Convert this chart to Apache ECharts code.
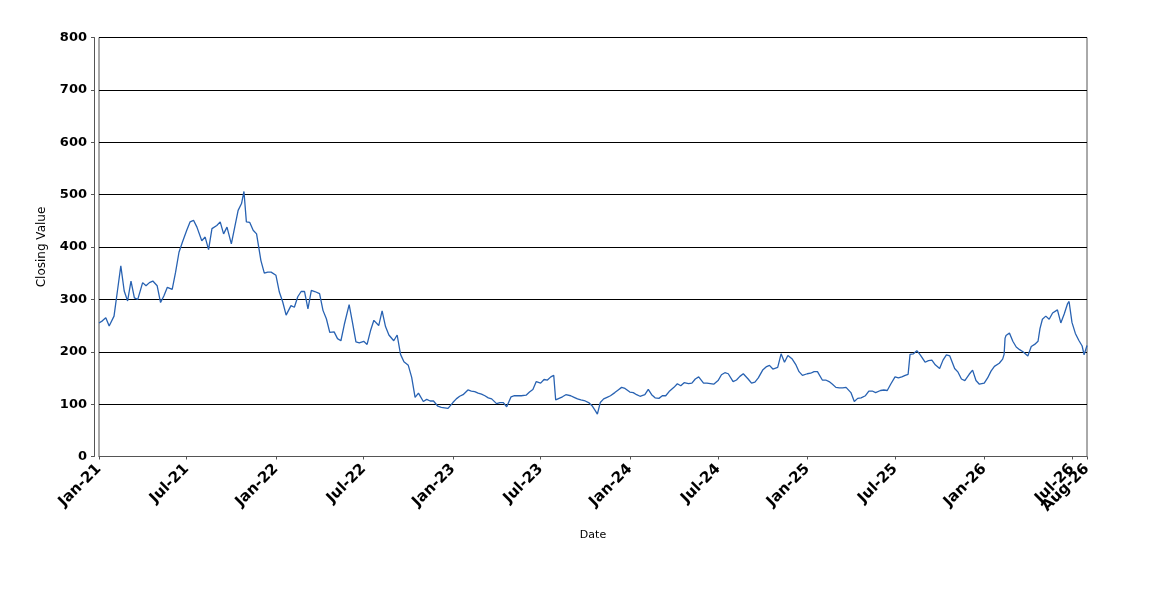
<!DOCTYPE html>
<html>
<head>
<meta charset="utf-8">
<script src="https://cdn.jsdelivr.net/npm/echarts@6/dist/echarts.min.js"></script>
<style>
  html, body { margin: 0; padding: 0; background: #fff; }
  #chart { width: 1150px; height: 600px; }
</style>
</head>
<body>
<div id="chart"></div>
<script>
// closing values, roughly weekly
var dates = [
  '2021-01-01','2021-01-08','2021-01-15','2021-01-22',
  '2021-02-01','2021-02-08','2021-02-15','2021-02-22',
  '2021-03-01','2021-03-08','2021-03-15','2021-03-22',
  '2021-04-01','2021-04-08','2021-04-15','2021-04-22',
  '2021-05-01','2021-05-08','2021-05-15','2021-05-22',
  '2021-06-01','2021-06-08','2021-06-15','2021-06-22',
  '2021-07-01','2021-07-08','2021-07-15','2021-07-22',
  '2021-08-01','2021-08-08','2021-08-15','2021-08-22',
  '2021-09-01','2021-09-08','2021-09-15','2021-09-22',
  '2021-10-01','2021-10-08','2021-10-15','2021-10-22','2021-10-27',
  '2021-11-01','2021-11-08','2021-11-15','2021-11-22',
  '2021-12-01','2021-12-08','2021-12-15','2021-12-22',
  '2022-01-01','2022-01-08','2022-01-15','2022-01-22',
  '2022-02-01','2022-02-08','2022-02-15','2022-02-22',
  '2022-03-01','2022-03-08','2022-03-15','2022-03-22',
  '2022-04-01','2022-04-08','2022-04-15','2022-04-22',
  '2022-05-01','2022-05-08','2022-05-15','2022-05-22',
  '2022-06-01','2022-06-08','2022-06-15','2022-06-22',
  '2022-07-01','2022-07-08','2022-07-15','2022-07-22',
  '2022-08-01','2022-08-08','2022-08-15','2022-08-22',
  '2022-09-01','2022-09-08','2022-09-15','2022-09-22',
  '2022-10-01','2022-10-08','2022-10-15','2022-10-22',
  '2022-11-01','2022-11-08','2022-11-15','2022-11-22',
  '2022-12-01','2022-12-08','2022-12-15','2022-12-22',
  '2023-01-01','2023-01-08','2023-01-15','2023-01-22',
  '2023-02-01','2023-02-08','2023-02-15','2023-02-22',
  '2023-03-01','2023-03-08','2023-03-15','2023-03-22',
  '2023-04-01','2023-04-08','2023-04-15','2023-04-22',
  '2023-05-01','2023-05-08','2023-05-15','2023-05-22',
  '2023-06-01','2023-06-08','2023-06-15','2023-06-22',
  '2023-07-01','2023-07-08','2023-07-15','2023-07-22','2023-07-28',
  '2023-08-01','2023-08-08','2023-08-15','2023-08-22',
  '2023-09-01','2023-09-08','2023-09-15','2023-09-22',
  '2023-10-01','2023-10-08','2023-10-15','2023-10-22','2023-10-26',
  '2023-11-01','2023-11-08','2023-11-15','2023-11-22',
  '2023-12-01','2023-12-08','2023-12-15','2023-12-22',
  '2024-01-01','2024-01-08','2024-01-15','2024-01-22',
  '2024-02-01','2024-02-08','2024-02-15','2024-02-22',
  '2024-03-01','2024-03-08','2024-03-15','2024-03-22',
  '2024-04-01','2024-04-08','2024-04-15','2024-04-22',
  '2024-05-01','2024-05-08','2024-05-15','2024-05-22',
  '2024-06-01','2024-06-08','2024-06-15','2024-06-22',
  '2024-07-01','2024-07-08','2024-07-15','2024-07-22',
  '2024-08-01','2024-08-08','2024-08-15','2024-08-22',
  '2024-09-01','2024-09-08','2024-09-15','2024-09-22',
  '2024-10-01','2024-10-08','2024-10-15','2024-10-22',
  '2024-11-01','2024-11-08','2024-11-15','2024-11-22',
  '2024-12-01','2024-12-08','2024-12-15','2024-12-22',
  '2025-01-01','2025-01-08','2025-01-15','2025-01-22',
  '2025-02-01','2025-02-08','2025-02-15','2025-02-22',
  '2025-03-01','2025-03-08','2025-03-15','2025-03-22',
  '2025-04-01','2025-04-08','2025-04-15','2025-04-22',
  '2025-05-01','2025-05-08','2025-05-15','2025-05-22',
  '2025-06-01','2025-06-08','2025-06-15','2025-06-22',
  '2025-07-01','2025-07-08','2025-07-15','2025-07-22','2025-07-28',
  '2025-08-01','2025-08-08','2025-08-15','2025-08-22',
  '2025-09-01','2025-09-08','2025-09-15','2025-09-22',
  '2025-10-01','2025-10-08','2025-10-15','2025-10-22',
  '2025-11-01','2025-11-08','2025-11-15','2025-11-22',
  '2025-12-01','2025-12-08','2025-12-15','2025-12-22',
  '2026-01-01','2026-01-08','2026-01-15','2026-01-22',
  '2026-02-01','2026-02-08','2026-02-11','2026-02-13','2026-02-15','2026-02-22',
  '2026-03-01','2026-03-08','2026-03-15','2026-03-22',
  '2026-04-01','2026-04-08','2026-04-15','2026-04-22','2026-04-26',
  '2026-05-01','2026-05-08','2026-05-15','2026-05-22',
  '2026-06-01','2026-06-08','2026-06-15','2026-06-22','2026-06-25',
  '2026-07-01','2026-07-08','2026-07-15','2026-07-22','2026-07-26',
  '2026-08-01'
];
var closing = [
  255, 259, 265, 249,
  268, 316, 364, 316,
  297, 335, 303, 300,
  332, 326, 332, 335,
  326, 294, 307, 323,
  319, 352, 390, 409,
  432, 448, 451, 438,
  412, 419, 395, 435,
  441, 448, 425, 438,
  406, 438, 470, 483, 506,
  448, 447, 432, 425,
  374, 350, 352, 352,
  346, 314, 295, 270,
  288, 285, 305, 315,
  315, 282, 317, 315,
  311, 279, 263, 237,
  238, 225, 221, 252,
  290, 255, 219, 217,
  220, 214, 240, 260,
  250, 278, 248, 232,
  221, 232, 195, 181,
  174, 151, 113, 121,
  105, 109, 106, 106,
  96, 94, 93, 92,
  103, 110, 115, 118,
  127, 125, 124, 121,
  119, 116, 112, 110,
  101, 103, 103, 95,
  114, 116, 116, 116,
  117, 123, 128, 143,
  140, 147, 146, 152, 155,
  108, 111, 114, 118,
  116, 113, 110, 108,
  106, 103, 97, 87, 81,
  103, 110, 113, 116,
  122, 127, 132, 130,
  123, 122, 118, 115,
  118, 128, 118, 112,
  111, 116, 116, 124,
  132, 139, 135, 141,
  139, 140, 148, 152,
  140, 140, 139, 138,
  145, 156, 160, 158,
  143, 146, 153, 158,
  148, 140, 142, 150,
  165, 171, 174, 167,
  170, 196, 180, 193,
  186, 176, 162, 155,
  158, 159, 162, 162,
  146, 146, 143, 138,
  132, 131, 131, 132,
  122, 105, 111, 112,
  116, 125, 125, 122,
  126, 127, 126, 138,
  152, 150, 152, 155, 157,
  195, 196, 202, 194,
  180, 183, 184, 175,
  168, 184, 194, 192,
  168, 161, 148, 145,
  157, 165, 145, 138,
  140, 150, 163, 172,
  178, 186, 195, 226, 231, 236,
  220, 209, 204, 200,
  192, 210, 214, 220, 244,
  262, 268, 262, 274,
  280, 255, 272, 292, 296,
  256, 235, 222, 211, 194,
  212
];
var tickDates = [
  '2021-01-01','2021-07-01','2022-01-01','2022-07-01','2023-01-01','2023-07-01',
  '2024-01-01','2024-07-01','2025-01-01','2025-07-01','2026-01-01','2026-07-01','2026-08-01'
];
var tickLabels = [
  'Jan-21','Jul-21','Jan-22','Jul-22','Jan-23','Jul-23',
  'Jan-24','Jul-24','Jan-25','Jul-25','Jan-26','Jul-26','Aug-26'
];

function toTime(s) {
  var p = s.split('-');
  return Date.UTC(+p[0], +p[1] - 1, +p[2]);
}

var tickTimes = tickDates.map(toTime);
var seriesData = [];
for (var i = 0; i < dates.length; i++) {
  seriesData.push([toTime(dates[i]), closing[i]]);
}

var chart = echarts.init(document.getElementById('chart'));
var font = 'DejaVu Sans';
var tMin = tickTimes[0];
var tMax = tickTimes[tickTimes.length - 1];

function dateLabel(v) {
  for (var k = 0; k < tickTimes.length; k++) {
    if (Math.abs(tickTimes[k] - v) < 43200000) return tickLabels[k];
  }
  return '';
}

var labelStyle = {
  rotate: 45,
  margin: 5,
  fontFamily: font,
  fontSize: 15,
  fontWeight: 'bold',
  color: '#000',
  formatter: dateLabel
};

var option = {
  animation: false,
  grid: {
    left: 99, right: 63, top: 37.5, bottom: 143.5,
    show: true, borderColor: '#555', borderWidth: 1
  },
  xAxis: [{
    type: 'value',
    min: tMin,
    max: tMax,
    offset: 5,
    name: 'Date',
    nameLocation: 'middle',
    nameGap: 68,
    nameTextStyle: { fontFamily: font, fontSize: 11, color: '#000' },
    axisLine: { lineStyle: { color: '#555', width: 1 } },
    axisTick: { customValues: tickTimes, length: 3, lineStyle: { color: '#555' } },
    axisLabel: Object.assign({ customValues: tickTimes.slice(0, -1) }, labelStyle),
    splitLine: { show: false }
  }, {
    // second axis on the same grid only carries the last (overlapping) label
    type: 'value',
    min: tMin,
    max: tMax,
    position: 'bottom',
    offset: 5,
    axisLine: { show: false },
    axisTick: { show: false },
    axisLabel: Object.assign({ customValues: [tMax], showMaxLabel: true }, labelStyle),
    splitLine: { show: false }
  }],
  yAxis: {
    type: 'value',
    min: 0, max: 800, interval: 100,
    offset: 5,
    name: 'Closing Value',
    nameLocation: 'middle',
    nameGap: 46,
    nameTextStyle: { fontFamily: font, fontSize: 12, color: '#000' },
    axisLine: { show: true, lineStyle: { color: '#555', width: 1 } },
    axisTick: { show: true, length: 3, lineStyle: { color: '#555' } },
    axisLabel: { margin: 7, fontFamily: font, fontSize: 13, fontWeight: 'bold', color: '#000' },
    splitLine: { show: true, lineStyle: { color: '#000', width: 1 } }
  },
  series: [{
    name: 'Closing Value',
    type: 'line',
    xAxisIndex: 0,
    data: seriesData,
    showSymbol: false,
    lineStyle: { color: '#2862b2', width: 1.3 },
    itemStyle: { color: '#2862b2' }
  }]
};
chart.setOption(option);
</script>
</body>
</html>
